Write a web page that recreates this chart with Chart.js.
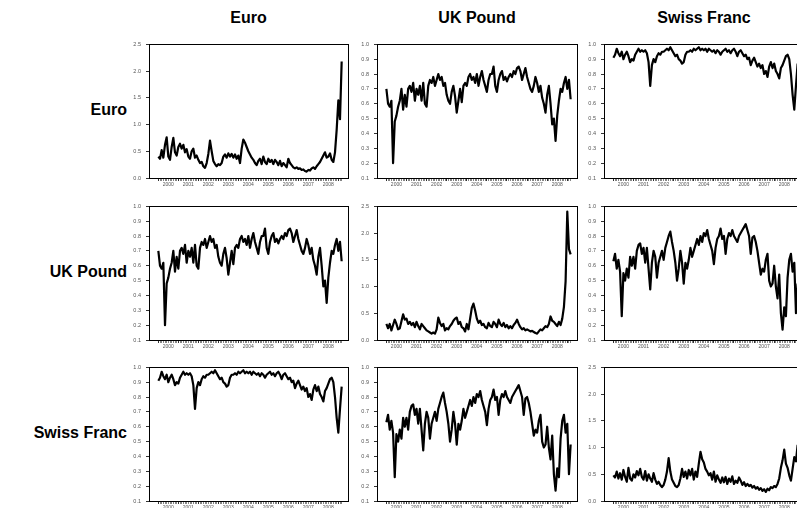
<!DOCTYPE html>
<html>
<head>
<meta charset="utf-8">
<title>Volatilities and correlations</title>
<script src="https://cdn.jsdelivr.net/npm/chart.js@4.4.1/dist/chart.umd.min.js"></script>
<style>
    html, body { margin: 0; padding: 0; background: #fff; overflow: hidden; }
    body { position: relative; width: 797px; height: 508px; font-family: Arial, "Liberation Sans", sans-serif; }
    .head { position: absolute; font-weight: bold; font-size: 16px; line-height: 16px; color: #000; white-space: nowrap; }
    .col { top: 10px; width: 200px; text-align: center; }
    .row { right: 670px; text-align: right; }
    canvas { position: absolute; }
</style>
</head>
<body>
<script>
// currencies, used for the column and row headings
const currencies = ['Euro', 'UK Pound', 'Swiss Franc'];
// x tick labels, one per year (data is monthly from Jan 2000)
const years = ['2000', '2001', '2002', '2003', '2004', '2005', '2006', '2007', '2008'];
const volTicks = [0.0, 0.5, 1.0, 1.5, 2.0, 2.5];
const corrTicks = [0.1, 0.2, 0.3, 0.4, 0.5, 0.6, 0.7, 0.8, 0.9, 1.0];

// volatilities
const eurVol = [
    0.40, 0.36, 0.52, 0.38, 0.62, 0.76, 0.40, 0.34, 0.58, 0.75,
    0.48, 0.42, 0.58, 0.64, 0.55, 0.62, 0.48, 0.54, 0.40, 0.36,
    0.50, 0.55, 0.38, 0.42, 0.34, 0.28, 0.30, 0.22, 0.19, 0.28,
    0.45, 0.70, 0.50, 0.32, 0.26, 0.22, 0.26, 0.24, 0.28, 0.40,
    0.44, 0.38, 0.46, 0.40, 0.45, 0.38, 0.44, 0.36, 0.42, 0.28,
    0.55, 0.72, 0.66, 0.58, 0.50, 0.44, 0.38, 0.34, 0.28, 0.24,
    0.32, 0.36, 0.26, 0.40, 0.30, 0.26, 0.36, 0.30, 0.34, 0.26,
    0.34, 0.30, 0.24, 0.32, 0.22, 0.28, 0.24, 0.20, 0.36, 0.28,
    0.24, 0.20, 0.18, 0.20, 0.17, 0.18, 0.15, 0.16, 0.13, 0.12,
    0.15, 0.14, 0.18, 0.20, 0.17, 0.22, 0.26, 0.30, 0.36, 0.42,
    0.48, 0.38, 0.40, 0.46, 0.34, 0.30, 0.48, 0.90, 1.45, 1.10, 2.18
];
const gbpVol = [
    0.30, 0.22, 0.30, 0.18, 0.28, 0.38, 0.30, 0.20, 0.22, 0.35,
    0.48, 0.38, 0.40, 0.30, 0.34, 0.28, 0.32, 0.24, 0.34, 0.26,
    0.20, 0.30, 0.26, 0.22, 0.18, 0.16, 0.14, 0.12, 0.14, 0.12,
    0.20, 0.42, 0.32, 0.26, 0.30, 0.18, 0.22, 0.20, 0.26, 0.30,
    0.36, 0.40, 0.42, 0.30, 0.34, 0.24, 0.22, 0.16, 0.30, 0.20,
    0.40, 0.60, 0.68, 0.55, 0.40, 0.32, 0.36, 0.28, 0.30, 0.24,
    0.22, 0.32, 0.26, 0.24, 0.34, 0.30, 0.24, 0.38, 0.30, 0.26,
    0.32, 0.24, 0.28, 0.22, 0.26, 0.22, 0.28, 0.32, 0.38, 0.30,
    0.24, 0.20, 0.22, 0.18, 0.20, 0.18, 0.16, 0.17, 0.15, 0.13,
    0.12, 0.16, 0.20, 0.18, 0.22, 0.26, 0.24, 0.30, 0.44, 0.36,
    0.34, 0.30, 0.26, 0.34, 0.28, 0.40, 0.62, 1.10, 2.40, 1.70, 1.60
];
const chfVol = [
    0.48, 0.44, 0.55, 0.42, 0.52, 0.40, 0.58, 0.45, 0.36, 0.62,
    0.42, 0.38, 0.50, 0.44, 0.56, 0.48, 0.60, 0.45, 0.40, 0.56,
    0.38, 0.50, 0.42, 0.36, 0.52, 0.40, 0.32, 0.36, 0.30, 0.26,
    0.30, 0.40, 0.55, 0.80, 0.55, 0.40, 0.34, 0.28, 0.26, 0.30,
    0.42, 0.60, 0.45, 0.55, 0.42, 0.58, 0.48, 0.60, 0.40, 0.55,
    0.45, 0.70, 0.92, 0.78, 0.72, 0.60, 0.55, 0.48, 0.52, 0.40,
    0.55, 0.36, 0.48, 0.40, 0.34, 0.44, 0.35, 0.45, 0.32, 0.42,
    0.36, 0.46, 0.32, 0.38, 0.34, 0.44, 0.38, 0.30, 0.35, 0.28,
    0.32, 0.28, 0.30, 0.25, 0.28, 0.23, 0.26, 0.21, 0.24, 0.19,
    0.22, 0.17, 0.23, 0.20, 0.26, 0.24, 0.28, 0.26, 0.32, 0.42,
    0.62, 0.76, 0.96, 0.70, 0.62, 0.48, 0.38, 0.60, 0.82, 0.74, 1.05
];

// pairwise correlations
const eurGbpCorr = [
    0.70, 0.60, 0.58, 0.62, 0.20, 0.48, 0.52, 0.58, 0.62, 0.70,
    0.56, 0.66, 0.58, 0.70, 0.72, 0.68, 0.74, 0.62, 0.70, 0.66,
    0.72, 0.62, 0.74, 0.60, 0.58, 0.72, 0.76, 0.74, 0.78, 0.72,
    0.76, 0.80, 0.76, 0.78, 0.72, 0.74, 0.66, 0.62, 0.60, 0.68,
    0.72, 0.65, 0.54, 0.62, 0.70, 0.61, 0.72, 0.74, 0.72, 0.78,
    0.80, 0.76, 0.78, 0.74, 0.80, 0.72, 0.78, 0.82, 0.76, 0.72,
    0.68, 0.76, 0.80, 0.80, 0.85, 0.72, 0.68, 0.76, 0.80, 0.82,
    0.76, 0.78, 0.75, 0.78, 0.80, 0.78, 0.82, 0.80, 0.84, 0.85,
    0.82, 0.76, 0.80, 0.84, 0.78, 0.74, 0.70, 0.68, 0.72, 0.78,
    0.74, 0.68, 0.72, 0.64, 0.60, 0.54, 0.66, 0.72, 0.60, 0.46,
    0.50, 0.35, 0.52, 0.62, 0.70, 0.68, 0.74, 0.78, 0.70, 0.76, 0.63
];
const eurChfCorr = [
    0.91, 0.93, 0.97, 0.94, 0.92, 0.95, 0.90, 0.93, 0.95, 0.92,
    0.88, 0.90, 0.89, 0.93, 0.95, 0.97, 0.95, 0.96, 0.95, 0.96,
    0.94, 0.88, 0.72, 0.86, 0.90, 0.88, 0.92, 0.94, 0.93, 0.95,
    0.95, 0.96, 0.97, 0.96, 0.98, 0.96, 0.94, 0.92, 0.93, 0.90,
    0.89, 0.87, 0.88, 0.93, 0.95, 0.95, 0.96, 0.95, 0.97, 0.96,
    0.97, 0.98, 0.96, 0.97, 0.96, 0.97, 0.95, 0.97, 0.96, 0.95,
    0.96, 0.94, 0.96, 0.95, 0.93, 0.95, 0.96, 0.97, 0.95, 0.96,
    0.94, 0.96, 0.97, 0.95, 0.92, 0.95, 0.96, 0.94, 0.92, 0.93,
    0.90, 0.91, 0.86, 0.89, 0.91, 0.88, 0.85, 0.87, 0.84, 0.86,
    0.80, 0.82, 0.78, 0.85, 0.88, 0.84, 0.87, 0.82, 0.80, 0.77,
    0.84, 0.86, 0.89, 0.92, 0.93, 0.90, 0.80, 0.66, 0.56, 0.72, 0.87
];
const gbpChfCorr = [
    0.63, 0.68, 0.58, 0.64, 0.56, 0.26, 0.55, 0.50, 0.58, 0.52,
    0.66, 0.60, 0.66, 0.58, 0.70, 0.74, 0.75, 0.68, 0.72, 0.62,
    0.72, 0.58, 0.44, 0.62, 0.70, 0.66, 0.52, 0.62, 0.66, 0.70,
    0.64, 0.72, 0.76, 0.80, 0.83, 0.76, 0.70, 0.62, 0.50, 0.58,
    0.70, 0.62, 0.48, 0.62, 0.58, 0.64, 0.72, 0.66, 0.70, 0.74,
    0.78, 0.74, 0.80, 0.76, 0.82, 0.80, 0.84, 0.78, 0.74, 0.70,
    0.61, 0.72, 0.78, 0.80, 0.85, 0.78, 0.80, 0.68, 0.78, 0.82,
    0.80, 0.84, 0.80, 0.78, 0.76, 0.80, 0.82, 0.84, 0.86, 0.88,
    0.84, 0.80, 0.68, 0.79, 0.80, 0.76, 0.70, 0.62, 0.54, 0.58,
    0.56, 0.64, 0.68, 0.50, 0.46, 0.48, 0.60, 0.46, 0.38, 0.54,
    0.28, 0.17, 0.32, 0.26, 0.52, 0.64, 0.68, 0.56, 0.62, 0.28, 0.48
];

// matrix of panels: diagonal = volatility, off-diagonal = correlation
const grid = [
    [eurVol, eurGbpCorr, eurChfCorr],
    [eurGbpCorr, gbpVol, gbpChfCorr],
    [eurChfCorr, gbpChfCorr, chfVol]
];

const colLeft = [149, 377, 604];
const colWidth = [199, 200, 200];
const rowTop = [42, 204, 365];
const boxHeight = 136;
const padLeft = 30, padTop = 6, padRight = 6, padBottom = 18;

// black box round the plot area
const frame = {
    id: 'frame',
    afterDraw(chart) {
        const { ctx, chartArea: a } = chart;
        ctx.save();
        ctx.strokeStyle = '#000';
        ctx.lineWidth = 1;
        ctx.strokeRect(Math.round(a.left) + 0.5, Math.round(a.top) + 0.5, Math.round(a.width), Math.round(a.height));
        ctx.restore();
    }
};

function drawPanel(values, r, c) {
    const isVol = r === c;
    const yTicks = isVol ? volTicks : corrTicks;
    const monthTicks = values.map((v, i) => i);

    const canvas = document.createElement('canvas');
    canvas.width = colWidth[c] + padLeft + padRight;
    canvas.height = boxHeight + padTop + padBottom;
    canvas.style.left = (colLeft[c] - padLeft) + 'px';
    canvas.style.top = (rowTop[r] - padTop) + 'px';
    document.body.appendChild(canvas);

    new Chart(canvas.getContext('2d'), {
        type: 'line',
        data: {
            datasets: [{
                data: values.map((v, i) => ({ x: i, y: v })),
                borderColor: '#000',
                borderWidth: 2.2,
                borderJoinStyle: 'round',
                pointRadius: 0,
                tension: 0
            }]
        },
        options: {
            responsive: false,
            animation: false,
            events: [],
            layout: { padding: { top: padTop, right: padRight, left: 0, bottom: 0 } },
            plugins: { legend: { display: false }, tooltip: { enabled: false } },
            scales: {
                x: {
                    type: 'linear',
                    min: -5.6,
                    max: 113.8,
                    afterBuildTicks: s => { s.ticks = monthTicks.map(v => ({ value: v })); },
                    afterFit: s => { s.height = padBottom; },
                    border: { display: false },
                    grid: {
                        drawOnChartArea: false,
                        tickLength: 3,
                        tickColor: '#333',
                        tickWidth: ctx => (ctx.tick && ctx.tick.value % 12 === 0 ? 1 : 0.6)
                    },
                    ticks: {
                        autoSkip: false,
                        maxRotation: 0,
                        padding: 1,
                        color: '#555',
                        font: { size: 5, family: 'Arial, "Liberation Sans", sans-serif' },
                        callback: v => (v % 12 === 6 ? years[(v - 6) / 12] : '')
                    }
                },
                y: {
                    min: yTicks[0],
                    max: yTicks[yTicks.length - 1],
                    afterBuildTicks: s => { s.ticks = yTicks.map(v => ({ value: v })); },
                    afterFit: s => { s.width = padLeft; },
                    border: { display: false },
                    grid: { drawOnChartArea: false, tickLength: 3, tickColor: '#333' },
                    ticks: {
                        padding: 5,
                        color: '#555',
                        font: { size: 5.5, family: 'Arial, "Liberation Sans", sans-serif' },
                        callback: v => v.toFixed(1)
                    }
                }
            }
        },
        plugins: [frame]
    });
}

document.addEventListener('DOMContentLoaded', function () {
    currencies.forEach((name, i) => {
        const col = document.createElement('div');
        col.className = 'head col';
        col.style.left = (colLeft[i] + colWidth[i] / 2 - 100) + 'px';
        col.textContent = name;
        document.body.appendChild(col);

        const row = document.createElement('div');
        row.className = 'head row';
        row.style.top = (rowTop[i] + boxHeight / 2 - 8) + 'px';
        row.textContent = name;
        document.body.appendChild(row);
    });

    grid.forEach((cells, r) => cells.forEach((values, c) => drawPanel(values, r, c)));
});
</script>
</body>
</html>
